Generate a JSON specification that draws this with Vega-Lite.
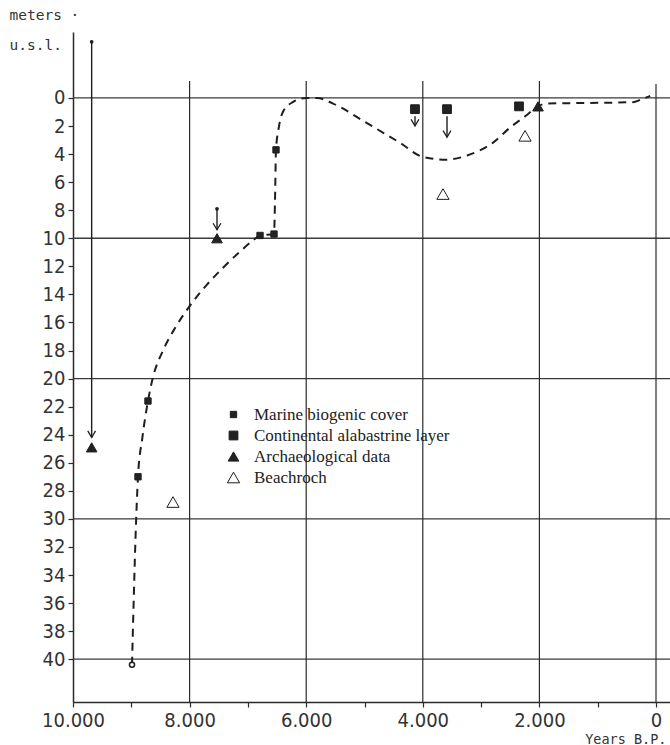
{
  "$schema": "https://vega.github.io/schema/vega-lite/v6.json",
  "autosize": {"type": "none"},
  "padding": {"left": 73, "top": 32, "right": 0, "bottom": 43},
  "width": 597,
  "height": 670,
  "background": "white",
  "config": {
    "view": {"stroke": null},
    "axis": {"domainColor": "#2a2a2a", "domainWidth": 1.5, "tickColor": "#2a2a2a", "tickWidth": 1.2, "tickSize": 5, "grid": false, "labelColor": "#333", "titleColor": "#333", "titleFontWeight": "normal"},
    "legend": {"orient": "none", "legendX": 152, "legendY": 374, "labelFont": "Liberation Serif", "labelFontSize": 17, "labelColor": "#222", "rowPadding": 3, "labelOffset": 12, "labelLimit": 400, "symbolStrokeWidth": 1}
  },
  "datasets": {
    "hgrid": [
      {"year": 10000, "year2": -240, "depth": 0},
      {"year": 10000, "year2": -240, "depth": 10},
      {"year": 10000, "year2": -240, "depth": 20},
      {"year": 10000, "year2": -240, "depth": 30},
      {"year": 10000, "year2": -240, "depth": 40}
    ],
    "vgrid": [
      {"year": 8000, "depth": -1.2, "depth2": 43.05},
      {"year": 6000, "depth": -1.2, "depth2": 43.05},
      {"year": 4000, "depth": -1.2, "depth2": 43.05},
      {"year": 2000, "depth": -1.2, "depth2": 43.05},
      {"year": 0, "depth": -1.0, "depth2": 43.05}
    ],
    "curve": [
      {"year": 8988, "depth": 40.4},
      {"year": 8960, "depth": 36.0},
      {"year": 8925, "depth": 31.0},
      {"year": 8885, "depth": 27.0},
      {"year": 8810, "depth": 24.2},
      {"year": 8714, "depth": 21.6},
      {"year": 8628, "depth": 19.9},
      {"year": 8456, "depth": 18.0},
      {"year": 8250, "depth": 16.4},
      {"year": 7993, "depth": 14.8},
      {"year": 7702, "depth": 13.3},
      {"year": 7427, "depth": 12.1},
      {"year": 7136, "depth": 10.95},
      {"year": 6912, "depth": 10.15},
      {"year": 6792, "depth": 9.8},
      {"year": 6552, "depth": 9.7},
      {"year": 6535, "depth": 7.3},
      {"year": 6518, "depth": 3.7},
      {"year": 6470, "depth": 2.1},
      {"year": 6400, "depth": 1.0},
      {"year": 6230, "depth": 0.3},
      {"year": 6000, "depth": 0.0},
      {"year": 5815, "depth": 0.0},
      {"year": 5540, "depth": 0.4},
      {"year": 4957, "depth": 1.8},
      {"year": 4390, "depth": 3.2},
      {"year": 4000, "depth": 4.2},
      {"year": 3600, "depth": 4.4},
      {"year": 3240, "depth": 4.1},
      {"year": 2800, "depth": 3.2},
      {"year": 2500, "depth": 2.1},
      {"year": 2210, "depth": 1.2},
      {"year": 2030, "depth": 0.6},
      {"year": 1870, "depth": 0.4},
      {"year": 1000, "depth": 0.35},
      {"year": 400, "depth": 0.3},
      {"year": 250, "depth": 0.1},
      {"year": 100, "depth": -0.15}
    ],
    "arrows": [
      {"year": 9680, "depth": -4.0, "depth2": 24.2},
      {"year": 7530, "depth": 7.9, "depth2": 9.4},
      {"year": 4134, "depth": 1.3, "depth2": 2.0},
      {"year": 3585, "depth": 1.3, "depth2": 2.8}
    ],
    "tails": [
      {"year": 9680, "depth": -4.0},
      {"year": 7530, "depth": 7.9}
    ],
    "start": [
      {"year": 8988, "depth": 40.4}
    ],
    "obs": [
      {"year": 8885, "depth": 27.0, "type": "Marine biogenic cover"},
      {"year": 8714, "depth": 21.6, "type": "Marine biogenic cover"},
      {"year": 6792, "depth": 9.8, "type": "Marine biogenic cover"},
      {"year": 6552, "depth": 9.7, "type": "Marine biogenic cover"},
      {"year": 6518, "depth": 3.7, "type": "Marine biogenic cover"},
      {"year": 4134, "depth": 0.8, "type": "Continental alabastrine layer"},
      {"year": 3585, "depth": 0.8, "type": "Continental alabastrine layer"},
      {"year": 2350, "depth": 0.6, "type": "Continental alabastrine layer"},
      {"year": 9680, "depth": 24.9, "type": "Archaeological data"},
      {"year": 7530, "depth": 10.0, "type": "Archaeological data"},
      {"year": 2024, "depth": 0.6, "type": "Archaeological data"},
      {"year": 8285, "depth": 28.8, "type": "Beachroch"},
      {"year": 3654, "depth": 6.85, "type": "Beachroch"},
      {"year": 2247, "depth": 2.7, "type": "Beachroch"}
    ]
  },
  "encoding": {
    "x": {
      "field": "year", "type": "quantitative",
      "scale": {"domain": [-240, 10000], "reverse": true, "nice": false, "zero": false},
      "axis": {
        "values": [10000, 9000, 8000, 7000, 6000, 5000, 4000, 3000, 2000, 1000, 0],
        "labelExpr": "datum.value % 2000 == 0 ? replace(format(datum.value, ','), ',', '.') : ''",
        "labelFont": "DejaVu Sans Condensed, sans-serif",
        "labelFontSize": 20,
        "labelPadding": 3,
        "labelFlush": false,
        "labelOverlap": false,
        "title": "Years B.P.",
        "titleFont": "DejaVu Sans Mono",
        "titleFontSize": 13.5,
        "titleAlign": "right",
        "titleAnchor": "start",
        "titleX": 593,
        "titleY": 41,
        "titleBaseline": "alphabetic"
      }
    },
    "y": {
      "field": "depth", "type": "quantitative",
      "scale": {"domain": [-4.7, 43.05], "reverse": true, "nice": false, "zero": false},
      "axis": {
        "values": [0, 2, 4, 6, 8, 10, 12, 14, 16, 18, 20, 22, 24, 26, 28, 30, 32, 34, 36, 38, 40],
        "labelFont": "DejaVu Sans Condensed, sans-serif",
        "labelFontSize": 20,
        "labelPadding": 3,
        "labelOverlap": false,
        "labelFlush": false,
        "title": ["meters ·", "u.s.l."],
        "titleFont": "DejaVu Sans Mono",
        "titleFontSize": 14.5,
        "titleAngle": 0,
        "titleAlign": "left",
        "titleBaseline": "top",
        "titleLineHeight": 30,
        "titleX": -64,
        "titleY": -24
      }
    }
  },
  "layer": [
    {
      "data": {"name": "hgrid"},
      "mark": {"type": "rule", "color": "#3a3a3a", "strokeWidth": 1.3},
      "encoding": {"x2": {"field": "year2"}}
    },
    {
      "data": {"name": "vgrid"},
      "mark": {"type": "rule", "color": "#2a2a2a", "strokeWidth": 1.2},
      "encoding": {"y2": {"field": "depth2"}}
    },
    {
      "data": {"name": "curve"},
      "mark": {"type": "line", "color": "#1e1e1e", "strokeWidth": 2, "strokeDash": [8, 6], "interpolate": "monotone"},
      "encoding": {}
    },
    {
      "data": {"name": "arrows"},
      "mark": {"type": "rule", "color": "#1e1e1e", "strokeWidth": 1.4},
      "encoding": {"y2": {"field": "depth2"}}
    },
    {
      "data": {"name": "arrows"},
      "mark": {"type": "point", "shape": "M-1,-1.7L0,0L1,-1.7", "filled": false, "size": 60, "color": "#1e1e1e", "strokeWidth": 1.3, "opacity": 1},
      "encoding": {"y": {"field": "depth2", "type": "quantitative"}}
    },
    {
      "data": {"name": "tails"},
      "mark": {"type": "point", "shape": "circle", "filled": true, "size": 14, "color": "#1e1e1e", "opacity": 1},
      "encoding": {}
    },
    {
      "data": {"name": "start"},
      "mark": {"type": "point", "shape": "circle", "filled": true, "fill": "white", "stroke": "#1e1e1e", "strokeWidth": 1.5, "size": 26, "opacity": 1},
      "encoding": {}
    },
    {
      "data": {"name": "obs"},
      "mark": {"type": "point", "filled": true, "strokeWidth": 1, "opacity": 1},
      "encoding": {
        "stroke": {
          "field": "type", "type": "nominal",
          "scale": {"domain": ["Marine biogenic cover", "Continental alabastrine layer", "Archaeological data", "Beachroch"], "range": ["#1e1e1e", "#1e1e1e", "#1e1e1e", "#1e1e1e"]},
          "legend": {"title": null}
        },
        "shape": {
          "field": "type", "type": "nominal",
          "scale": {"domain": ["Marine biogenic cover", "Continental alabastrine layer", "Archaeological data", "Beachroch"], "range": ["square", "square", "triangle-up", "triangle-up"]},
          "legend": {"title": null}
        },
        "fill": {
          "field": "type", "type": "nominal",
          "scale": {"domain": ["Marine biogenic cover", "Continental alabastrine layer", "Archaeological data", "Beachroch"], "range": ["#222222", "#222222", "#222222", "#ffffff"]},
          "legend": {"title": null}
        },
        "size": {
          "field": "type", "type": "nominal",
          "scale": {"domain": ["Marine biogenic cover", "Continental alabastrine layer", "Archaeological data", "Beachroch"], "range": [40, 150, 120, 150]},
          "legend": {"title": null}
        }
      }
    }
  ]
}
